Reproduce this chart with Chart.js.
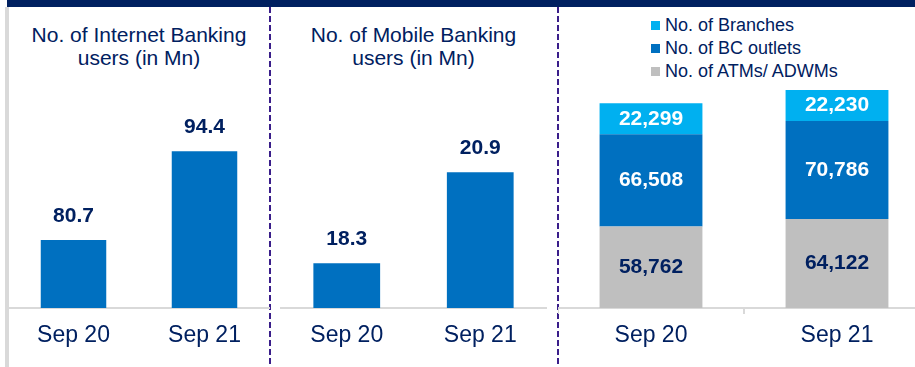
<!DOCTYPE html>
<html>
<head>
<meta charset="utf-8">
<script src="https://cdn.jsdelivr.net/npm/chart.js@4.4.0/dist/chart.umd.min.js"></script>
<style>
  html, body { margin: 0; padding: 0; background: #fff; overflow: hidden; }
  #stage { position: relative; width: 915px; height: 367px; overflow: hidden; font-family: "Liberation Sans", Arial, sans-serif; }
  .topbar { position: absolute; left: 7px; top: 0; width: 908px; height: 7px; background: #002060; }
  .edge { position: absolute; left: 5px; top: 7px; width: 4px; height: 360px; background: #d9d9d9; }
  .divider { position: absolute; top: 7px; width: 2px; height: 360px;
    background: repeating-linear-gradient(to bottom, #3a1e8a 0, #3a1e8a 6px, transparent 6px, transparent 9px); }
  .title { position: absolute; top: 23px; color: #002060; font-size: 21px; line-height: 23px; text-align: center; }
  canvas { position: absolute; top: 80px; }
  #legend { position: absolute; left: 651px; top: 14px; color: #002060; font-size: 18px; }
  #legend div { height: 23px; line-height: 23px; white-space: nowrap; }
  #legend span { display: inline-block; width: 9px; height: 9px; margin-right: 5px; vertical-align: 1px; }
</style>
</head>
<body>
<div id="stage">
  <div class="topbar"></div>
  <div class="edge"></div>
  <div class="divider" style="left:269px"></div>
  <div class="divider" style="left:557px"></div>
  <div class="title" style="left:8px;width:262px">No. of Internet Banking<br>users (in Mn)</div>
  <div class="title" style="left:280px;width:267px">No. of Mobile Banking<br>users (in Mn)</div>
  <div id="legend"></div>
  <canvas id="internetChart" width="262" height="287" style="left:8px"></canvas>
  <canvas id="mobileChart" width="267" height="287" style="left:280px"></canvas>
  <canvas id="networkChart" width="372" height="287" style="left:558px"></canvas>
</div>
<script>
const periods = ["Sep 20", "Sep 21"];
const internetUsers = [80.7, 94.4];
const mobileUsers = [18.3, 20.9];
const branches = [22299, 22230];
const bcOutlets = [66508, 70786];
const atms = [58762, 64122];

const navy = "#002060";
const fontFamily = "'Liberation Sans', Arial, sans-serif";

// writes the value of every bar, above it or centred in the stack segment
const valueLabels = {
  id: "valueLabels",
  afterDatasetsDraw(chart, args, opts) {
    const ctx = chart.ctx;
    ctx.save();
    ctx.font = "bold 21px " + fontFamily;
    ctx.textAlign = "center";
    ctx.textBaseline = "middle";
    chart.data.datasets.forEach((ds, i) => {
      const meta = chart.getDatasetMeta(i);
      meta.data.forEach((bar, j) => {
        const value = ds.data[j];
        const text = opts.stacked ? value.toLocaleString("en-US") : value.toFixed(1);
        const y = opts.stacked ? (bar.y + bar.base) / 2 : bar.y - 24;
        ctx.fillStyle = ds.labelColor || navy;
        ctx.fillText(text, bar.x, y);
      });
    });
    ctx.restore();
  }
};

function xAxis(withTicks) {
  return {
    afterFit(scale) { scale.height = 59; },
    grid: {
      display: withTicks,
      drawOnChartArea: false,
      drawTicks: withTicks,
      tickLength: 6,
      color: "#d9d9d9",
      lineWidth: 2
    },
    border: { display: true, color: "#d9d9d9", width: 2 },
    ticks: { color: navy, font: { family: fontFamily, size: 23 }, padding: withTicks ? 8 : 14 }
  };
}

function simpleBar(id, values, min, max) {
  return new Chart(document.getElementById(id), {
    type: "bar",
    data: {
      labels: periods,
      datasets: [{ data: values, backgroundColor: "#0070c0", categoryPercentage: 1, barPercentage: 0.5 }]
    },
    options: {
      responsive: false,
      animation: false,
      layout: { padding: 0 },
      scales: {
        x: xAxis(false),
        y: { display: false, min: min, max: max }
      },
      plugins: { legend: { display: false }, tooltip: { enabled: false }, valueLabels: { stacked: false } }
    },
    plugins: [valueLabels]
  });
}

simpleBar("internetChart", internetUsers, 70.2, 105.4);
simpleBar("mobileChart", mobileUsers, 17.02, 23.54);

const networkSeries = [
  { label: "No. of ATMs/ ADWMs", data: atms, backgroundColor: "#bfbfbf", labelColor: navy },
  { label: "No. of BC outlets", data: bcOutlets, backgroundColor: "#0070c0", labelColor: "#ffffff" },
  { label: "No. of Branches", data: branches, backgroundColor: "#00b0f0", labelColor: "#ffffff" }
];

new Chart(document.getElementById("networkChart"), {
  type: "bar",
  data: {
    labels: periods,
    datasets: networkSeries.map((s) => ({ ...s, categoryPercentage: 1, barPercentage: 0.553 }))
  },
  options: {
    responsive: false,
    animation: false,
    layout: { padding: 0 },
    scales: {
      x: { ...xAxis(true), stacked: true },
      y: { display: false, stacked: true, min: 0, max: 164400 }
    },
    plugins: { legend: { display: false }, tooltip: { enabled: false }, valueLabels: { stacked: true } }
  },
  plugins: [valueLabels]
});

// legend lists the top segment first
const legend = document.getElementById("legend");
networkSeries.slice().reverse().forEach((s) => {
  const row = document.createElement("div");
  row.innerHTML = '<span style="background:' + s.backgroundColor + '"></span>' + s.label;
  legend.appendChild(row);
});
</script>
</body>
</html>
